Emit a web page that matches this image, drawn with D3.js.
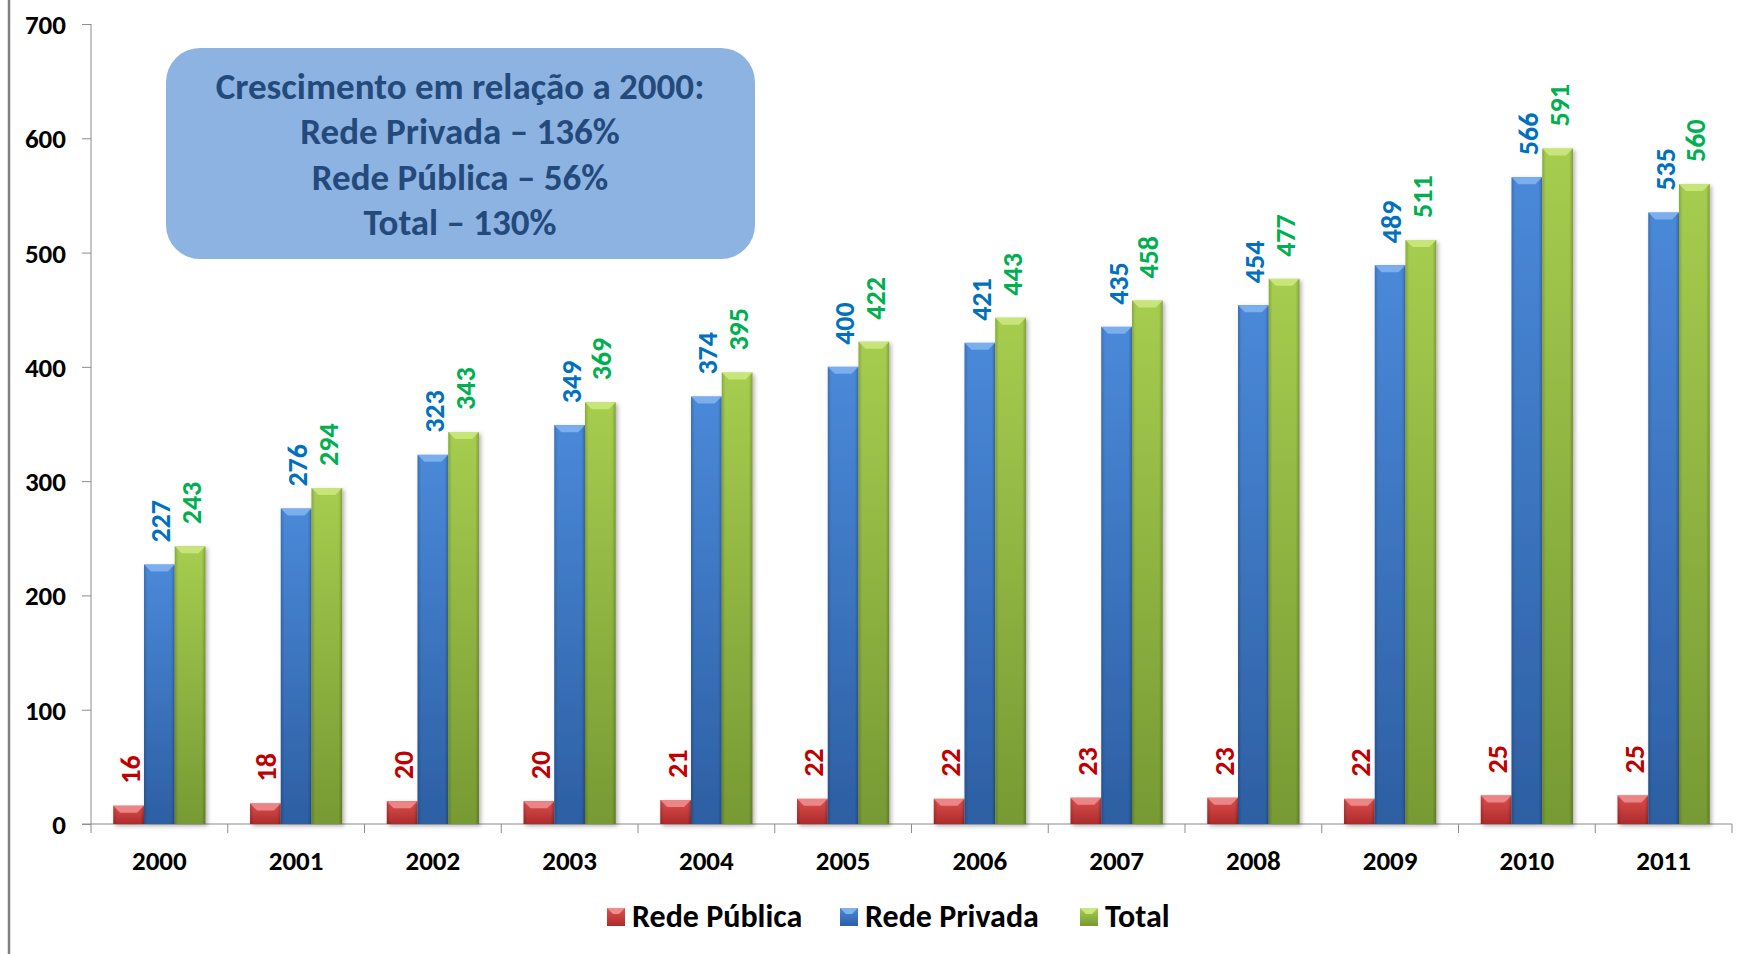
<!DOCTYPE html>
<html><head><meta charset="utf-8">
<script src="https://cdn.jsdelivr.net/npm/d3@7"></script>
<style>
html,body{margin:0;padding:0;background:#fff;}
svg{display:block;font-family:Carlito,Calibri,Lato,"Open Sans",sans-serif;font-weight:700;}
</style></head>
<body>
<svg id="chart" width="1740" height="954"></svg>
<script>
const years = ["2000","2001","2002","2003","2004","2005","2006","2007","2008","2009","2010","2011"];
const seriesNames = ["Rede Pública","Rede Privada","Total"];
const redePublica = [16,18,20,20,21,22,22,23,23,22,25,25];
const redePrivada = [227,276,323,349,374,400,421,435,454,489,566,535];
const total = [243,294,343,369,395,422,443,458,477,511,591,560];
const yTicks = [0,100,200,300,400,500,600,700];
const boxLines = ["Crescimento em relação a 2000:","Rede Privada – 136%","Rede Pública – 56%","Total – 130%"];

const seriesValues = [redePublica, redePrivada, total];
const barTop = ["#dc4f4f","#4a89d9","#a6cd4f"];
const barBot = ["#ad2b2b","#2d5fa3","#779a33"];
const bevel = ["#ee8c8c","#80b2ee","#cbe87c"];
const labelColors = ["#c00000","#0070c0","#00b050"];
const FONT = "Carlito,Calibri,Lato,'Open Sans',sans-serif";

const svg = d3.select("#chart");
const defs = svg.append("defs");
seriesNames.forEach((s,i)=>{
  const g = defs.append("linearGradient").attr("id","g"+i).attr("x1",0).attr("y1",0).attr("x2",0).attr("y2",1);
  g.append("stop").attr("offset","0%").attr("stop-color",barTop[i]);
  g.append("stop").attr("offset","100%").attr("stop-color",barBot[i]);
  const h = defs.append("linearGradient").attr("id","h"+i).attr("x1",0).attr("y1",0).attr("x2",1).attr("y2",0);
  h.append("stop").attr("offset","0%").attr("stop-color","#000").attr("stop-opacity",0.18);
  h.append("stop").attr("offset","12%").attr("stop-color","#000").attr("stop-opacity",0);
  h.append("stop").attr("offset","88%").attr("stop-color","#000").attr("stop-opacity",0);
  h.append("stop").attr("offset","100%").attr("stop-color","#000").attr("stop-opacity",0.22);
});
const f = defs.append("filter").attr("id","sh").attr("x","-20%").attr("y","-20%").attr("width","150%").attr("height","150%");
f.append("feDropShadow").attr("dx",2).attr("dy",2).attr("stdDeviation",2).attr("flood-color","#000").attr("flood-opacity",0.3);

// outer left border
svg.append("line").attr("x1",9).attr("x2",9).attr("y1",0).attr("y2",954).attr("stroke","#7f7f7f").attr("stroke-width",2.5);

const x0 = d3.scaleBand().domain(years).range([91,1732]).paddingInner(0).paddingOuter(0);
const x1 = d3.scaleBand().domain([0,1,2]).range([0,x0.bandwidth()]).paddingInner(0).paddingOuter(145/200);
const y = d3.scaleLinear().domain([0,700]).range([824,24]);

// y axis
const yAxis = svg.append("g").attr("transform","translate(91,0)")
  .call(d3.axisLeft(y).tickValues(yTicks).tickSize(9).tickPadding(16).tickFormat(d3.format("d")))
  .attr("font-family",FONT).attr("font-size",27).attr("font-weight",700);
yAxis.select(".domain").attr("d","M0,24V833").attr("stroke","#8c8c8c");
yAxis.selectAll(".tick line").attr("stroke","#8c8c8c");
yAxis.selectAll("text").attr("fill","#000").attr("dy","0.35em");

// x axis
const xAxis = svg.append("g").attr("transform","translate(0,824)")
  .call(d3.axisBottom(x0).tickSize(0).tickPadding(27))
  .attr("font-family",FONT).attr("font-size",27).attr("font-weight",700);
xAxis.select(".domain").attr("d","M82,0H1732").attr("stroke","#8c8c8c");
xAxis.selectAll("text").attr("fill","#000");
// boundary ticks
svg.append("g").selectAll("line").data(years).join("line")
  .attr("x1",d=>x0(d)+x0.bandwidth()).attr("x2",d=>x0(d)+x0.bandwidth())
  .attr("y1",824).attr("y2",833).attr("stroke","#8c8c8c");

// bars
const groups = svg.append("g").selectAll("g").data(years).join("g")
  .attr("transform",d=>`translate(${x0(d)},0)`);
seriesNames.forEach((s,si)=>{
  const bw = x1.bandwidth();
  const gg = groups.append("g").attr("filter","url(#sh)");
  gg.append("rect")
    .attr("x",x1(si)).attr("width",bw)
    .attr("y",(d,i)=>y(seriesValues[si][i]))
    .attr("height",(d,i)=>824-y(seriesValues[si][i]))
    .attr("fill",`url(#g${si})`);
  gg.append("rect")
    .attr("x",x1(si)).attr("width",bw)
    .attr("y",(d,i)=>y(seriesValues[si][i]))
    .attr("height",(d,i)=>824-y(seriesValues[si][i]))
    .attr("fill",`url(#h${si})`);
  gg.append("path")
    .attr("d",(d,i)=>{const t=y(seriesValues[si][i]), l=x1(si), b=7;
      return `M${l},${t}H${l+bw}L${l+bw-b},${t+b}H${l+b}Z`;})
    .attr("fill",bevel[si]).attr("opacity",0.9);
  groups.append("text")
    .attr("transform",(d,i)=>`translate(${x1(si)+bw/2+1},${y(seriesValues[si][i])-22}) rotate(-90)`)
    .attr("dy","0.36em")
    .attr("text-anchor","start")
    .attr("font-size",28)
    .attr("fill",labelColors[si])
    .text((d,i)=>seriesValues[si][i]);
});

// annotation box
const box = svg.append("g");
box.append("rect").attr("x",166).attr("y",48).attr("width",589).attr("height",211).attr("rx",34).attr("ry",34).attr("fill","#8db3e2");
box.selectAll("text").data(boxLines).join("text")
  .attr("x",460).attr("y",(d,i)=>99+i*45.3).attr("text-anchor","middle")
  .attr("font-size",37).attr("fill","#244a7c").text(d=>d);

// legend
const legendX = [607,840,1080];
const leg = svg.append("g").selectAll("g").data(seriesNames).join("g")
  .attr("transform",(d,i)=>`translate(${legendX[i]},908)`);
leg.append("rect").attr("width",18).attr("height",18).attr("fill",(d,i)=>`url(#g${i})`);
leg.append("path").attr("d","M0,0H18L12,6H6Z").attr("fill",(d,i)=>bevel[i]);
leg.append("text").attr("x",25).attr("y",19).attr("font-size",32).attr("fill","#000").text(d=>d);
</script>
</body></html>
